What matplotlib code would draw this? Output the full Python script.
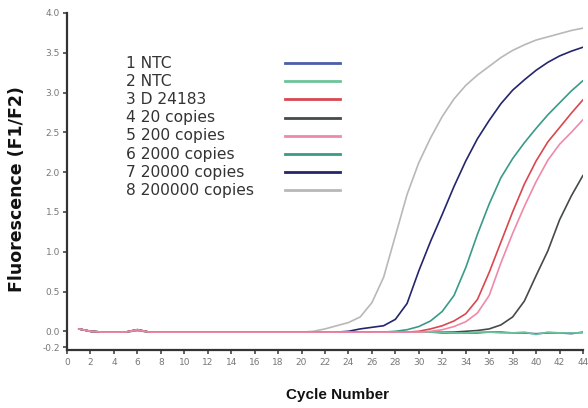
import matplotlib
matplotlib.use("Agg")
import matplotlib.pyplot as plt
from matplotlib.lines import Line2D

cycles = list(range(1, 45))

labels = ["1 NTC", "2 NTC", "3 D 24183", "4 20 copies", "5 200 copies",
          "6 2000 copies", "7 20000 copies", "8 200000 copies"]
colors = ["#4a5fa8", "#6dc39a", "#d9474f", "#454a4a", "#ee8aa8",
          "#3a9a88", "#25256e", "#b8b8b8"]

ntc1 = [0.03, 0.00, -0.01, -0.01, -0.01, 0.01, -0.01, -0.01, -0.01, -0.01,
        -0.01, -0.01, -0.01, -0.01, -0.01, -0.01, -0.01, -0.01, -0.01, -0.01,
        -0.01, -0.01, -0.01, -0.01, -0.01, -0.01, -0.01, -0.01, -0.01, -0.01,
        -0.01, -0.02, -0.02, -0.02, -0.02, -0.01, -0.01, -0.02, -0.02, -0.03,
        -0.02, -0.02, -0.03, -0.01]
ntc2 = [0.03, 0.00, -0.01, -0.01, -0.01, 0.01, -0.01, -0.01, -0.01, -0.01,
        -0.01, -0.01, -0.01, -0.01, -0.01, -0.01, -0.01, -0.01, -0.01, -0.01,
        -0.01, -0.01, -0.01, -0.01, -0.01, -0.01, -0.01, -0.01, -0.01, -0.01,
        -0.01, -0.01, -0.02, -0.02, -0.01, -0.01, -0.02, -0.02, -0.01, -0.04,
        -0.01, -0.02, -0.02, -0.02]
d24183 = [0.03, 0.00, -0.01, -0.01, -0.01, 0.02, -0.01, -0.01, -0.01, -0.01,
          -0.01, -0.01, -0.01, -0.01, -0.01, -0.01, -0.01, -0.01, -0.01, -0.01,
          -0.01, -0.01, -0.01, -0.01, -0.01, -0.01, -0.01, -0.01, -0.01, 0.00,
          0.03, 0.07, 0.13, 0.22, 0.40, 0.74, 1.12, 1.50, 1.85, 2.14,
          2.38, 2.56, 2.74, 2.91]
c20 = [0.03, 0.00, -0.01, -0.01, -0.01, 0.02, -0.01, -0.01, -0.01, -0.01,
       -0.01, -0.01, -0.01, -0.01, -0.01, -0.01, -0.01, -0.01, -0.01, -0.01,
       -0.01, -0.01, -0.01, -0.01, -0.01, -0.01, -0.01, -0.01, -0.01, -0.01,
       -0.01, -0.01, -0.01, 0.00, 0.01, 0.03, 0.08, 0.18, 0.38, 0.70,
       1.01, 1.40, 1.70, 1.96]
c200 = [0.03, 0.00, -0.01, -0.01, -0.01, 0.02, -0.01, -0.01, -0.01, -0.01,
        -0.01, -0.01, -0.01, -0.01, -0.01, -0.01, -0.01, -0.01, -0.01, -0.01,
        -0.01, -0.01, -0.01, -0.01, -0.01, -0.01, -0.01, -0.01, -0.01, -0.01,
        0.00, 0.02, 0.06, 0.12, 0.23, 0.45, 0.86, 1.23, 1.57, 1.88,
        2.15, 2.35, 2.50, 2.66]
c2000 = [0.03, 0.00, -0.01, -0.01, -0.01, 0.02, -0.01, -0.01, -0.01, -0.01,
         -0.01, -0.01, -0.01, -0.01, -0.01, -0.01, -0.01, -0.01, -0.01, -0.01,
         -0.01, -0.01, -0.01, -0.01, -0.01, -0.01, -0.01, 0.00, 0.02, 0.06,
         0.13, 0.25, 0.45, 0.80, 1.22, 1.60, 1.93, 2.17, 2.37, 2.55,
         2.72, 2.87, 3.02, 3.15]
c20000 = [0.03, 0.00, -0.01, -0.01, -0.01, 0.02, -0.01, -0.01, -0.01, -0.01,
          -0.01, -0.01, -0.01, -0.01, -0.01, -0.01, -0.01, -0.01, -0.01, -0.01,
          -0.01, -0.01, -0.01, 0.00, 0.03, 0.05, 0.07, 0.15, 0.35, 0.76,
          1.13, 1.47, 1.82, 2.14, 2.42, 2.65, 2.86, 3.03, 3.16, 3.28,
          3.38, 3.46, 3.52, 3.57]
c200000 = [0.03, 0.00, -0.01, -0.01, -0.01, 0.02, -0.01, -0.01, -0.01, -0.01,
           -0.01, -0.01, -0.01, -0.01, -0.01, -0.01, -0.01, -0.01, -0.01, -0.01,
           0.00, 0.03, 0.07, 0.11, 0.18, 0.36, 0.68, 1.20, 1.72, 2.12,
           2.43, 2.70, 2.92, 3.09, 3.22, 3.33, 3.44, 3.53, 3.60, 3.66,
           3.70, 3.74, 3.78, 3.81]

series = [ntc1, ntc2, d24183, c20, c200, c2000, c20000, c200000]
draw_order = [7, 6, 5, 3, 0, 1, 2, 4]

yticks = [-0.2, 0.0, 0.5, 1.0, 1.5, 2.0, 2.5, 3.0, 3.5, 4.0]
xticks = list(range(0, 45, 2))

W, H = 588, 408
fig = plt.figure(figsize=(W / 100, H / 100), dpi=100)
ax = fig.add_axes([67 / W, 1 - 350 / H, (583 - 67) / W, (350 - 13) / H])

for i in draw_order:
    ax.plot(cycles, series[i], color=colors[i], lw=1.2, solid_capstyle="round")

ax.set_xlim(0, 44)
ax.set_ylim(-0.235, 4.0)
ax.set_yticks(yticks)
ax.set_yticklabels([f"{v:.1f}" for v in yticks])
ax.set_xticks(xticks)
ax.set_xticklabels([str(v) for v in xticks])
for s in ["top", "right"]:
    ax.spines[s].set_visible(False)
for s in ["left", "bottom"]:
    ax.spines[s].set_linewidth(1.6)
    ax.spines[s].set_color("#333333")
ax.tick_params(axis="both", direction="out", length=3, width=1.2,
               color="#444444", labelsize=6.5, labelcolor="#777777", pad=2)
ax.tick_params(axis="x", pad=3)

ax.set_xlabel("Cycle Number", fontsize=11, fontweight="bold",
              family="Liberation Sans", color="#111111")
ax.xaxis.set_label_coords((337 - 67) / (583 - 67), -(388 - 350) / (350 - 13))
ax.set_ylabel("Fluorescence (F1/F2)", fontsize=12.5,
              fontweight="bold", family="DejaVu Sans", color="#111111")
ax.yaxis.set_label_coords(-(67 - 26) / (583 - 67), (350 - 189) / (350 - 13))

# legend
for k, (lab, col) in enumerate(zip(labels, colors)):
    yy = 1 - (63 + k * 18.2) / H
    fig.text(126 / W, yy, lab, fontsize=11.2, family="DejaVu Sans",
             color="#333333", va="center", ha="left")
    fig.add_artist(Line2D([285 / W, 340 / W], [yy, yy], color=col, lw=2.0,
                          transform=fig.transFigure))

fig.savefig("out.png", dpi=100)
